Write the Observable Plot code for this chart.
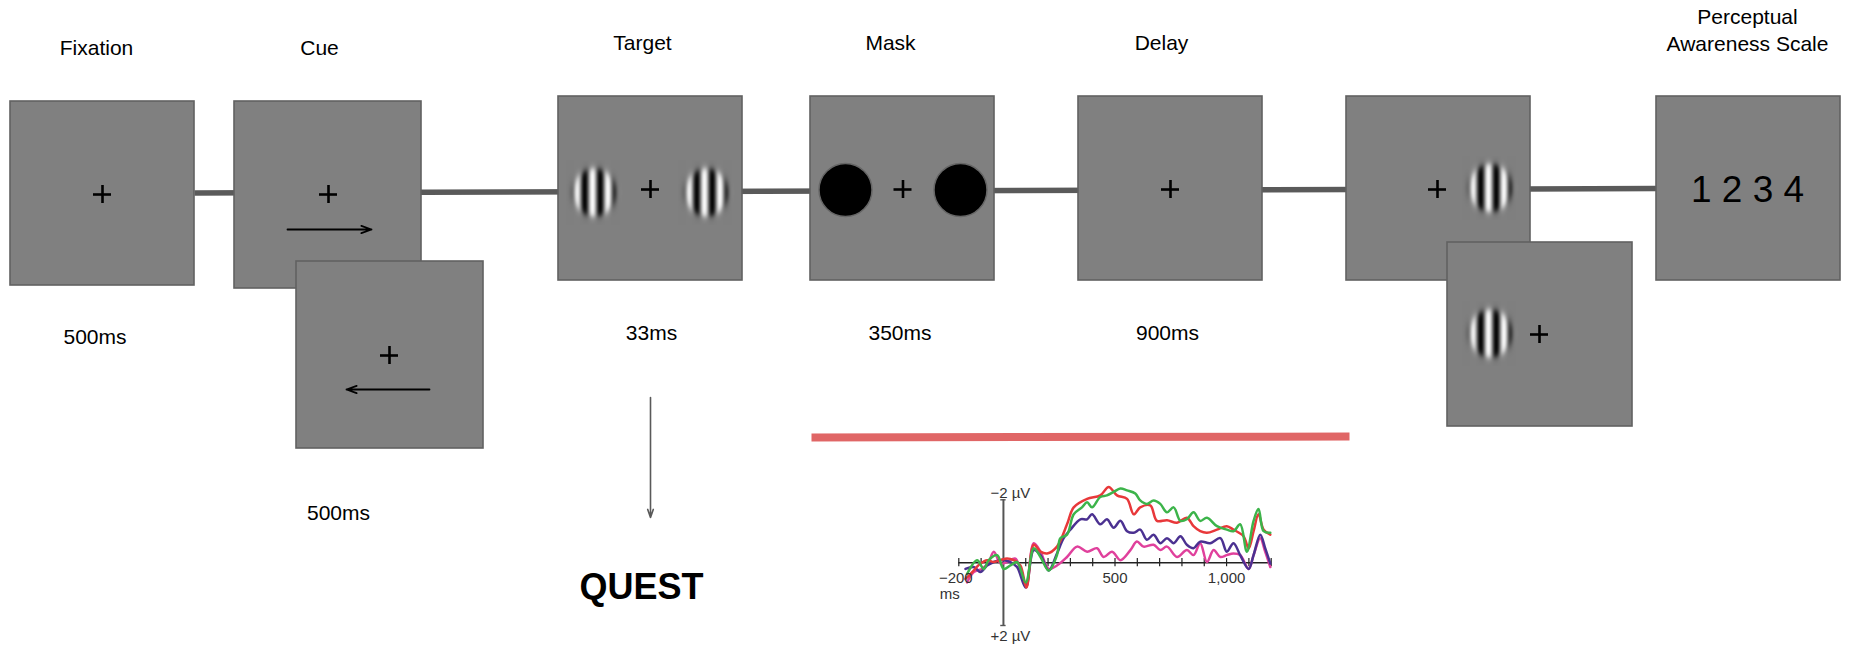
<!DOCTYPE html>
<html>
<head>
<meta charset="utf-8">
<script src="https://cdn.jsdelivr.net/npm/d3@7"></script>
<script src="https://cdn.jsdelivr.net/npm/@observablehq/plot@0.6"></script>
<style>
  html, body { margin: 0; padding: 0; background: #fff; }
  #wrap { position: relative; width: 1850px; height: 649px; overflow: hidden; }
  #main { position: absolute; left: 0; top: 0; }
  #erp { position: absolute; left: 900px; top: 470px; }
</style>
</head>
<body>
<div id="wrap"><div id="main"></div><div id="erp"></div></div>
<script>
// ---------------- DATA ----------------
const stageNames = ["Fixation", "Cue", "Target", "Mask", "Delay", "Perceptual\nAwareness Scale"];
const durationLabels = ["500ms", "500ms", "33ms", "350ms", "900ms"];
const pasRatings = [1, 2, 3, 4];
const procedureLabel = "QUEST";

// ERP inset: time (ms) and amplitude (µV, negative plotted upward)
const erpTicks = [-200, -100, 0, 100, 200, 300, 400, 500, 600, 700, 800, 900, 1000, 1100, 1200];
const erpNegTickLabel = [{t: -200, s: "\u2212200"}];
const erpTickLabels = [{t: 500, s: "500"}, {t: 1000, s: "1,000"}];
const erpUnitX = "ms";
const erpTopLabel = [{v: -2, s: "\u22122 \u00b5V"}];
const erpBottomLabel = [{v: 2, s: "+2 \u00b5V"}];
const erpSeriesNames = ["PAS 1", "PAS 2", "PAS 3", "PAS 4"];
const pas1Series = [[-163,0.63],[-133,0.30],[-96,0.20],[-66,-0.02],[-43,-0.35],[-13,0.03],[16,-0.02],[54,-0.13],[100,0.74],[136,-0.62],[166,-0.35],[203,0.20],[240,0.09],[285,-0.18],[330,-0.51],[375,-0.35],[419,-0.46],[449,-0.18],[487,-0.35],[524,-0.08],[569,-0.40],[598,-0.67],[628,-0.51],[673,-0.57],[703,-0.40],[733,-0.51],[778,-0.18],[822,-0.40],[852,-0.24],[882,-0.62],[912,-0.02],[942,-0.40],[972,-0.18],[1001,-0.24],[1031,-0.29],[1061,-0.24],[1099,0.20],[1121,-0.24],[1151,-0.78],[1173,-0.35],[1196,0.14]];
const pas2Series = [[-170,0.20],[-133,0.14],[-103,0.30],[-73,0.09],[-43,-0.02],[-13,-0.08],[31,-0.02],[61,0.14],[100,0.79],[136,-0.40],[166,-0.24],[203,0.25],[240,-0.29],[270,-0.78],[300,-1.05],[345,-1.38],[375,-1.38],[397,-1.54],[434,-1.22],[464,-1.38],[494,-1.11],[524,-1.33],[554,-1.00],[584,-0.95],[613,-1.05],[643,-0.73],[673,-0.89],[703,-0.62],[733,-0.78],[763,-0.62],[793,-0.84],[822,-0.57],[852,-0.46],[882,-0.67],[927,-0.62],[972,-0.78],[1001,-0.35],[1031,-0.62],[1061,-0.24],[1099,0.20],[1121,-0.24],[1151,-0.89],[1173,-0.46],[1196,0.03]];
const pas3Series = [[-170,0.52],[-140,0.30],[-103,0.03],[-73,-0.08],[-43,-0.02],[-13,-0.08],[16,-0.13],[46,-0.08],[76,0.09],[103,0.79],[136,-0.57],[166,-0.35],[196,-0.29],[240,-0.51],[285,-1.22],[315,-1.76],[375,-2.03],[434,-2.14],[472,-2.41],[509,-2.14],[554,-2.03],[584,-1.54],[613,-1.76],[658,-1.82],[688,-1.33],[733,-1.35],[778,-1.27],[822,-1.43],[852,-1.16],[882,-1.00],[912,-0.95],[957,-1.05],[1001,-1.16],[1031,-1.05],[1076,-0.84],[1099,-0.45],[1121,-1.00],[1143,-1.54],[1166,-1.05],[1196,-0.89]];
const pas4Series = [[-163,0.36],[-118,-0.08],[-88,0.20],[-66,-0.08],[-28,-0.24],[1,0.20],[31,0.09],[61,-0.02],[100,0.63],[136,-0.46],[166,-0.18],[203,0.25],[240,-0.24],[255,-0.78],[285,-0.89],[315,-1.54],[352,-1.76],[375,-1.92],[397,-1.76],[434,-2.09],[464,-2.14],[494,-2.25],[524,-2.36],[554,-2.30],[591,-2.20],[613,-1.98],[643,-1.87],[673,-1.98],[703,-1.87],[733,-1.60],[763,-1.76],[793,-1.33],[822,-1.38],[852,-1.60],[882,-1.33],[912,-1.43],[957,-1.16],[1001,-1.05],[1031,-1.00],[1061,-1.22],[1091,-0.35],[1121,-1.33],[1143,-1.71],[1166,-1.00],[1196,-0.95]];

// ---------------- LAYOUT (page units, px) ----------------
const FONT = "'Liberation Sans', Arial, Helvetica, sans-serif";
const boxes = [
  {x1: 10,   x2: 194,  y1: 101, y2: 285},  // fixation
  {x1: 234,  x2: 421,  y1: 101, y2: 288},  // cue (right)
  {x1: 296,  x2: 483,  y1: 261, y2: 448},  // cue (left)
  {x1: 558,  x2: 742,  y1: 96,  y2: 280},  // target
  {x1: 810,  x2: 994,  y1: 96,  y2: 280},  // mask
  {x1: 1078, x2: 1262, y1: 96,  y2: 280},  // delay
  {x1: 1346, x2: 1530, y1: 96,  y2: 280},  // response right
  {x1: 1447, x2: 1632, y1: 242, y2: 426},  // response left
  {x1: 1656, x2: 1840, y1: 96,  y2: 280}   // PAS
];
const connector = [{x: 194, y: 192.5}, {x: 1656, y: 188}];
const eegBar = [{x: 811, y: 437}, {x: 1349, y: 436}];
const pluses = [
  {x: 102, y: 194}, {x: 328, y: 194}, {x: 389, y: 355}, {x: 650, y: 189},
  {x: 902.5, y: 189}, {x: 1170, y: 189}, {x: 1437, y: 189}, {x: 1539, y: 334}
];
const plusHalf = 9;
const gabors = [{x: 594, y: 192}, {x: 706, y: 192}, {x: 1490, y: 187.5}, {x: 1490, y: 333}];
const masks = [{x: 845, y: 189.5}, {x: 960, y: 189.5}];
const cueArrows = [
  {x1: 287, y1: 229, x2: 371, y2: 229},
  {x1: 429, y1: 389, x2: 346, y2: 389}
];
const questArrow = [{x1: 650, y1: 397, x2: 650, y2: 517}];
const stagePos = [
  {x: 96, y: 46}, {x: 319, y: 46}, {x: 642, y: 41}, {x: 890, y: 41}, {x: 1161, y: 41}, {x: 1747, y: 28.5}
];
const durationPos = [{x: 94.5, y: 337}, {x: 338, y: 513}, {x: 651, y: 333}, {x: 899.5, y: 333}, {x: 1167, y: 333}];

// Gabor luminance (0 = black, 1 = white, 0.5 = screen grey)
function gaborLum(x, y, cx, cy) {
  const dx = (x - cx) / 24, dy = (y - cy) / 27;
  const r = Math.sqrt(dx * dx + dy * dy);
  const env = 1 / (1 + Math.exp((r - 0.88) / 0.07));
  return 0.5 + 0.48 * env * Math.cos(2 * Math.PI * (x - cx + 2) / 15.5);
}

const stageText = stageNames.map((s, i) => ({s, ...stagePos[i]}));
const durText = durationLabels.map((s, i) => ({s, ...durationPos[i]}));

const mainMarks = [
  Plot.line(connector, {x: "x", y: "y", stroke: "#5a5a5a", strokeWidth: 5.5, strokeLinecap: "butt"}),
  Plot.line(eegBar, {x: "x", y: "y", stroke: "#e06666", strokeWidth: 8, strokeLinecap: "butt"}),
  Plot.rect(boxes, {x1: "x1", x2: "x2", y1: "y1", y2: "y2", fill: "#808080", stroke: "#616161", strokeWidth: 1.6}),
  ...gabors.map(g => Plot.raster({
    x1: g.x - 28, x2: g.x + 28, y1: g.y - 32, y2: g.y + 32,
    width: 56, height: 64,
    fill: (x, y) => gaborLum(x, y, g.x, g.y)
  })),
  Plot.dot(masks, {x: "x", y: "y", r: 26.5, fill: "#000", stroke: "#666", strokeWidth: 1.5}),
  Plot.ruleX(pluses, {x: "x", y1: d => d.y - plusHalf, y2: d => d.y + plusHalf, stroke: "#000", strokeWidth: 2.6}),
  Plot.ruleY(pluses, {y: "y", x1: d => d.x - plusHalf, x2: d => d.x + plusHalf, stroke: "#000", strokeWidth: 2.6}),
  Plot.arrow(cueArrows, {x1: "x1", y1: "y1", x2: "x2", y2: "y2", stroke: "#000", strokeWidth: 1.8, headLength: 9, headAngle: 40}),
  Plot.arrow(questArrow, {x1: "x1", y1: "y1", x2: "x2", y2: "y2", stroke: "#595959", strokeWidth: 1.6, headLength: 8, headAngle: 38}),
  Plot.text(stageText, {x: "x", y: "y", text: "s", fontSize: 21, fill: "#000", lineHeight: 1.29}),
  Plot.text(durText, {x: "x", y: "y", text: "s", fontSize: 21, fill: "#000"}),
  Plot.text([pasRatings.join(" ")], {x: () => 1747, y: () => 190, text: d => d, fontSize: 37, fill: "#000"}),
  Plot.text([procedureLabel], {x: () => 641, y: () => 587, text: d => d, fontSize: 36, fontWeight: "bold", fill: "#000"})
];

const mainPlot = Plot.plot({
  width: 1850, height: 649, margin: 0,
  x: {domain: [0, 1850], range: [0, 1850], axis: null},
  y: {domain: [0, 649], range: [0, 649], axis: null},
  color: {type: "linear", domain: [0, 1], range: ["#000000", "#ffffff"], interpolate: "rgb"},
  style: {fontFamily: FONT, background: "#fff", overflow: "visible"},
  marks: mainMarks
});
document.getElementById("main").append(mainPlot);

// ---------------- ERP inset ----------------
const seriesList = [pas1Series, pas2Series, pas3Series, pas4Series];
const erpData = erpSeriesNames.flatMap((name, i) => seriesList[i].map(([t, v]) => ({series: name, t, v})));
const lblStyle = {fontSize: 15, fill: "#333"};

const erpPlot = Plot.plot({
  width: 400, height: 179, margin: 0,
  x: {domain: [-200, 1200], range: [58.3, 370.7], axis: null},
  y: {domain: [-2, 2], range: [29.3, 155], axis: null},
  color: {domain: erpSeriesNames, range: ["#e0409c", "#4b3191", "#e8383a", "#3cb44a"]},
  style: {fontFamily: FONT, background: "transparent", overflow: "visible"},
  marks: [
    Plot.ruleY([0], {x1: -200, x2: 1200, stroke: "#222", strokeWidth: 1.5}),
    Plot.ruleX(erpTicks, {y1: -0.13, y2: 0.13, stroke: "#222", strokeWidth: 1.2}),
    Plot.ruleX([0], {y1: -2, y2: 2, stroke: "#555", strokeWidth: 2}),
    Plot.ruleY([-2, 2], {x1: -12, x2: 12, stroke: "#555", strokeWidth: 1.4}),
    Plot.line(erpData, {x: "t", y: "v", z: "series", stroke: "series", strokeWidth: 2.5, curve: "catmull-rom"}),
    Plot.text(erpTopLabel, {x: () => 0, y: "v", text: "s", textAnchor: "start", dx: -13, dy: -7, ...lblStyle}),
    Plot.text(erpBottomLabel, {x: () => 0, y: "v", text: "s", textAnchor: "start", dx: -13, dy: 11, ...lblStyle}),
    Plot.text(erpNegTickLabel, {x: "t", y: () => 0, text: "s", dx: -3, dy: 16, ...lblStyle}),
    Plot.text(erpTickLabels, {x: "t", y: () => 0, text: "s", dy: 16, ...lblStyle}),
    Plot.text([erpUnitX], {x: () => -200, y: () => 0, text: d => d, dx: -9, dy: 32, ...lblStyle})
  ]
});
document.getElementById("erp").append(erpPlot);
</script>
</body>
</html>
